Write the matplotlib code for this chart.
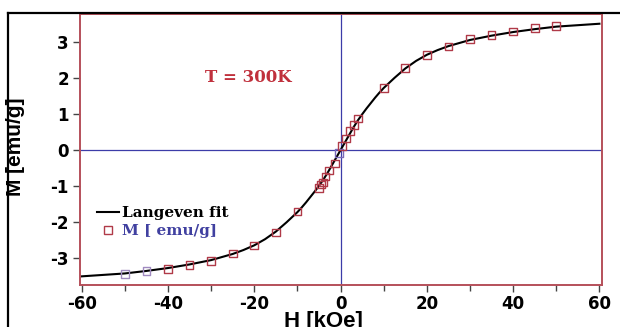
import matplotlib
matplotlib.use("Agg")
import matplotlib.pyplot as plt
from matplotlib.lines import Line2D
from matplotlib.ticker import MultipleLocator

plt.rcParams["axes.unicode_minus"] = False

# measured points M(H)
H = [-50, -45, -40, -35, -30, -25, -20, -15, -10,
     -4.95, -4.58, -4.03, -3.48, -2.75, -1.28, -0.37,
     0.37, 1.28, 2.2, 3.1, 4.0,
     10, 15, 20, 25, 30, 35, 40, 45, 50]
M = [-3.44, -3.36, -3.30, -3.18, -3.07, -2.87, -2.64, -2.28, -1.70,
     -1.06, -0.96, -0.90, -0.73, -0.57, -0.37, -0.09,
     0.11, 0.32, 0.52, 0.69, 0.87,
     1.72, 2.27, 2.64, 2.87, 3.07, 3.18, 3.28, 3.38, 3.44]

# Langevin fit curve
fit_H = [-60, -55, -50, -45, -40, -35, -30, -25, -22.5, -20, -17.5, -15, -12.5,
         -10, -9, -8, -7, -6, -5, -4, -3, -2, -1, 0,
         1, 2, 3, 4, 5, 6, 7, 8, 9, 10,
         12.5, 15, 17.5, 20, 22.5, 25, 30, 35, 40, 45, 50, 55, 60]
fit_M = [-3.50, -3.46, -3.42, -3.35, -3.27, -3.17, -3.05, -2.88, -2.77, -2.64, -2.47, -2.26, -2.00,
         -1.72, -1.59, -1.45, -1.30, -1.15, -0.99, -0.82, -0.63, -0.42, -0.21, 0.0,
         0.21, 0.42, 0.63, 0.82, 0.99, 1.15, 1.30, 1.45, 1.59, 1.72,
         2.00, 2.26, 2.47, 2.64, 2.77, 2.88, 3.05, 3.17, 3.27, 3.35, 3.42, 3.46, 3.50]

xticks = [-60, -40, -20, 0, 20, 40, 60]
yticks = [-3, -2, -1, 0, 1, 2, 3]

red = "#b5505a"
mark = "#b03a48"
blue = "#3c3ca8"

fig = plt.figure(figsize=(6.2, 3.27), dpi=100)
ax = fig.add_axes([80/620, 1-285/327, 522/620, 271/327])

ax.axhline(0, color=blue, lw=0.9, zorder=1)
ax.axvline(0, color=blue, lw=0.9, zorder=1)

ax.plot(fit_H, fit_M, color="black", lw=1.5, zorder=2, label="Langeven fit")
cols = [mark] * len(H)
cols[0] = "#a08ac0"
cols[1] = "#a08ac0"
cols[15] = "#7a6ab8"
ax.scatter(H, M, marker="s", s=30, facecolors="none", edgecolors=cols,
           linewidths=1.0, zorder=3)
sq = Line2D([], [], marker="s", ls="none", markersize=5.5, mfc="none",
            mec=mark, mew=1.0, label="M [ emu/g]")

ax.set_xlim(-60.4, 60.6)
ax.set_ylim(-3.74, 3.77)
ax.set_xticks(xticks)
ax.set_yticks(yticks)
ax.xaxis.set_minor_locator(MultipleLocator(10))
ax.tick_params(axis="both", which="both", direction="out", length=5, width=1,
               color="#444444", labelsize=12, pad=3)
ax.tick_params(axis="x", which="minor", length=4)
ax.tick_params(axis="x", pad=2)
for lab in ax.get_xticklabels() + ax.get_yticklabels():
    lab.set_fontweight("bold")
    lab.set_family("DejaVu Sans")

for s in ax.spines.values():
    s.set_color(red)
    s.set_linewidth(1.4)

ax.set_xlabel("H [kOe]", fontsize=16, fontweight="bold", family="Liberation Sans")
ax.xaxis.set_label_coords(0.467, -0.097)
ax.set_ylabel("M [emu/g]", fontsize=15, fontweight="bold", family="Liberation Sans")
ax.yaxis.set_label_coords(-0.105, 0.51)

ax.text(-21.4, 2.0, "T = 300K", color="#c0303c", fontsize=12, fontweight="bold",
        family="DejaVu Serif", ha="center", va="center")

h1 = ax.get_lines()[-1]
leg = ax.legend([h1, sq], ["Langeven fit", "M [ emu/g]"], loc="center left",
                bbox_to_anchor=(0.033, 0.231), frameon=False, borderpad=0,
                borderaxespad=0, handlelength=1.4, handletextpad=0.2,
                labelspacing=0.25, prop={"family": "DejaVu Serif", "weight": "bold", "size": 11},
                labelcolor=["black", "#4040a0"])

# black outer frame of the picture
fig.add_artist(Line2D([7.5/620, 1], [1-12.5/327, 1-12.5/327], color="black", lw=1.6))
fig.add_artist(Line2D([7.5/620, 7.5/620], [0, 1-12.5/327], color="black", lw=1.6))

fig.savefig("out.png", dpi=100)
